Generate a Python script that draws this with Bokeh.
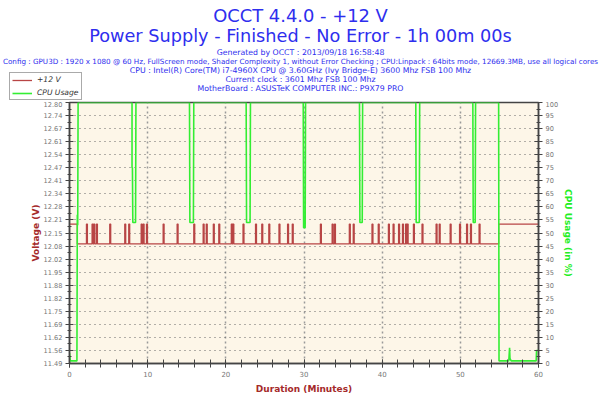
from bokeh.plotting import figure
from bokeh.layouts import column
from bokeh.models import (Range1d, LinearAxis, FixedTicker, Label, Legend, LegendItem)
from bokeh.embed import file_html
from bokeh.resources import INLINE

# ---------------- data ----------------
VOLT_TICK_LABELS = ["11.49", "11.56", "11.62", "11.69", "11.75", "11.82", "11.88",
                    "11.95", "12.02", "12.08", "12.15", "12.21", "12.28", "12.34",
                    "12.41", "12.47", "12.54", "12.61", "12.67", "12.74", "12.80"]
CPU_TICKS = [0, 5, 10, 15, 20, 25, 30, 35, 40, 45, 50, 55, 60, 65, 70, 75, 80, 85, 90, 95, 100]
X_TICKS = [0, 10, 20, 30, 40, 50, 60]

VOLT_MIN = 11.49
VOLT_MAX = 12.80

volt_base = 12.09
volt_high = 12.19
volt_spike_times = [2.17, 2.89, 3.11, 3.45, 5.15, 7.07, 7.58, 9.17, 9.42, 9.85, 11.98,
                    13.77, 15.9, 17.1, 17.5, 18.4, 19.1, 20.7, 20.9, 22.2, 23.8, 24.6,
                    25.5, 26.8, 27.9, 28.5, 32.1, 33.6, 33.9, 35.8, 36.3, 38.7, 39.5,
                    40.8, 41.4, 42.1, 42.6, 43.0, 43.2, 44.0, 45.1, 46.9, 47.3, 48.7,
                    49.9, 50.8, 51.3, 52.4]
volt_spike_width = 0.12
volt_start_high_end = 1.0
volt_end_high_start = 54.9
duration_end = 60.0

cpu_t = [0.0, 0.1, 0.95, 1.0, 1.05, 1.1,
         8.0, 8.0, 8.05, 8.1, 8.45, 8.5,
         15.35, 15.4, 15.85, 15.9,
         22.6, 22.65, 23.1, 23.15,
         29.9, 29.95, 30.15, 30.2,
         37.1, 37.15, 37.45, 37.5,
         44.3, 44.35, 44.75, 44.8,
         51.6, 51.65, 51.9, 51.95,
         54.9, 54.95, 56.2, 56.3, 56.35, 56.5, 59.7, 59.75, 60.0]
cpu_v = [4, 1, 1, 57, 53, 100,
         100, 75, 75, 54, 54, 100,
         100, 54, 54, 100,
         100, 54, 54, 100,
         100, 52, 52, 100,
         100, 54, 54, 100,
         100, 54, 54, 100,
         100, 54, 54, 100,
         100, 1, 1, 6, 2, 1, 1, 5, 5]

TITLE_1 = "OCCT 4.4.0 - +12 V"
TITLE_2 = "Power Supply - Finished - No Error - 1h 00m 00s"
INFO_LINES = [
    "Generated by OCCT : 2013/09/18 16:58:48",
    "Config : GPU3D : 1920 x 1080 @ 60 Hz, FullScreen mode, Shader Complexity 1, without Error Checking ; CPU:Linpack : 64bits mode, 12669.3MB, use all logical cores",
    "CPU : Intel(R) Core(TM) i7-4960X CPU @ 3.60GHz (Ivy Bridge-E) 3600 Mhz FSB 100 Mhz",
    "Current clock : 3601 Mhz FSB 100 Mhz",
    "MotherBoard : ASUSTeK COMPUTER INC.: P9X79 PRO",
]
LEGEND_LABELS = ["+12 V", "CPU Usage"]

# ---------------- build voltage step series ----------------
vt = [0.0, volt_start_high_end, volt_start_high_end]
vv = [volt_high, volt_high, volt_base]
for s in volt_spike_times:
    vt += [s, s, s + volt_spike_width, s + volt_spike_width]
    vv += [volt_base, volt_high, volt_high, volt_base]
vt += [volt_end_high_start, volt_end_high_start, duration_end]
vv += [volt_base, volt_high, volt_high]

FONT = "DejaVu Sans"
TITLE_COL = "#2E2EEE"
VOLT_COL = "#B84545"
CPU_COL = "#33EE33"
NAN = float("nan")

# ---------------- header figure (titles + legend) ----------------
HW, HH = 600, 101
hdr = figure(width=HW, height=HH, output_backend="svg", toolbar_location=None,
             x_range=Range1d(0, HW), y_range=Range1d(HH, 0),
             x_axis_location=None, y_axis_location=None,
             min_border=0, outline_line_color=None)
hdr.grid.visible = False
hdr.background_fill_color = "white"
hdr.border_fill_color = "white"
hdr.frame_align = False


def add_text(txt, cy, size, cx=300):
    hdr.add_layout(Label(x=cx, y=cy, text=txt, text_align="center",
                         text_baseline="middle", text_color=TITLE_COL,
                         text_font_size=size, text_font=FONT))


add_text(TITLE_1, 15, "17.9px")
add_text(TITLE_2, 35.5, "17.7px")
INFO_SIZES = ["7.8px", "7.2px", "7.8px", "7.8px", "7.8px"]
for i, line in enumerate(INFO_LINES):
    add_text(line, 52 + i * 9.1, INFO_SIZES[i])

lv = hdr.line([NAN], [NAN], line_color=VOLT_COL, line_width=1.3)
lc = hdr.line([NAN], [NAN], line_color=CPU_COL, line_width=1.6)
legend = Legend(items=[LegendItem(label=LEGEND_LABELS[0], renderers=[lv]),
                       LegendItem(label=LEGEND_LABELS[1], renderers=[lc])],
                location=(9, 1))
legend.label_text_font_size = "7.6px"
legend.label_text_font_style = "italic"
legend.label_text_color = "#333333"
legend.label_text_font = FONT
legend.glyph_width = 20
legend.glyph_height = 8
legend.label_height = 8
legend.label_standoff = 5
legend.spacing = 4
legend.padding = 2
legend.margin = 0
legend.border_line_color = "#555555"
legend.border_line_width = 1
legend.background_fill_color = "white"
legend.background_fill_alpha = 1
hdr.add_layout(legend, "center")

# ---------------- main chart ----------------
W, H = 600, 299
FL, FR = 69, 538

p = figure(width=W, height=H, output_backend="svg", toolbar_location=None,
           x_range=Range1d(0, 60), y_range=Range1d(VOLT_MIN, VOLT_MAX),
           min_border_left=FL, min_border_right=W - FR,
           min_border_top=1, min_border_bottom=37)
p.frame_align = False
p.background_fill_color = "#FDF6E8"
p.border_fill_color = "white"
p.outline_line_color = "#444444"
p.outline_line_width = 1.5
p.extra_y_ranges = {"cpu": Range1d(0, 100)}

tick_col = "#777777"

# x axis
xa = p.xaxis[0]
xa.ticker = FixedTicker(ticks=X_TICKS, minor_ticks=list(range(0, 61, 2)))
xa.axis_label = "Duration (Minutes)"
xa.axis_label_text_color = "#A52A2A"
xa.axis_label_text_font_style = "bold"
xa.axis_label_text_font_size = "9px"
xa.axis_label_text_font = FONT
xa.axis_label_standoff = 4
xa.major_label_text_font_size = "7px"
xa.major_label_text_color = tick_col
xa.major_label_text_font = FONT
xa.axis_line_color = "#444444"
xa.axis_line_width = 1.5
xa.major_tick_in = 4
xa.major_tick_out = 4
xa.minor_tick_in = 4
xa.minor_tick_out = 4
xa.major_tick_line_color = "#444444"
xa.minor_tick_line_color = "#444444"
xa.major_label_standoff = 3

# left axis
n = len(VOLT_TICK_LABELS)
step = (VOLT_MAX - VOLT_MIN) / (n - 1)
vticks = [VOLT_MIN + i * step for i in range(n)]
vminor = [VOLT_MIN + (i + 0.5) * step for i in range(n - 1)]
ya = p.yaxis[0]
ya.ticker = FixedTicker(ticks=vticks, minor_ticks=vminor)
ya.major_label_overrides = {t: lab for t, lab in zip(vticks, VOLT_TICK_LABELS)}
ya.axis_label = "Voltage (V)"
ya.axis_label_text_color = "#A52A2A"
ya.axis_label_text_font_style = "bold"
ya.axis_label_text_font_size = "9px"
ya.axis_label_text_font = FONT
ya.axis_label_standoff = 0
ya.major_label_text_font_size = "6.6px"
ya.major_label_text_color = tick_col
ya.major_label_text_font = FONT
ya.axis_line_color = "#444444"
ya.axis_line_width = 1.5
ya.major_tick_in = 4
ya.major_tick_out = 4
ya.minor_tick_in = 2
ya.minor_tick_out = 2
ya.major_tick_line_color = "#444444"
ya.minor_tick_line_color = "#444444"
ya.major_label_standoff = 3

# right axis
ra = LinearAxis(y_range_name="cpu")
ra.ticker = FixedTicker(ticks=CPU_TICKS, minor_ticks=[t + 2.5 for t in CPU_TICKS[:-1]])
ra.axis_label = "CPU Usage (in %)"
ra.axis_label_text_color = "#22EE22"
ra.axis_label_text_font_style = "bold"
ra.axis_label_text_font_size = "9px"
ra.axis_label_text_font = FONT
ra.axis_label_standoff = 2
ra.major_label_text_font_size = "6.6px"
ra.major_label_text_color = tick_col
ra.major_label_text_font = FONT
ra.axis_line_color = "#444444"
ra.axis_line_width = 1.5
ra.major_tick_in = 4
ra.major_tick_out = 4
ra.minor_tick_in = 2
ra.minor_tick_out = 2
ra.major_tick_line_color = "#444444"
ra.minor_tick_line_color = "#444444"
ra.major_label_standoff = 3
p.add_layout(ra, "right")

# grids
p.xgrid.ticker = FixedTicker(ticks=X_TICKS[1:-1])
p.xgrid.grid_line_color = "#999999"
p.xgrid.grid_line_dash = "2 3"
p.xgrid.grid_line_width = 1.5
p.ygrid.ticker = FixedTicker(ticks=vticks[1:-1])
p.ygrid.grid_line_color = "#666666"
p.ygrid.grid_line_dash = "1 4"
p.ygrid.grid_line_width = 1

# series
p.line(vt, vv, line_color=VOLT_COL, line_width=1.3)
p.line(cpu_t, cpu_v, y_range_name="cpu", line_color=CPU_COL, line_width=1.6)

layout = column(hdr, p, spacing=0)
open("out.html", "w").write(file_html(layout, INLINE))
